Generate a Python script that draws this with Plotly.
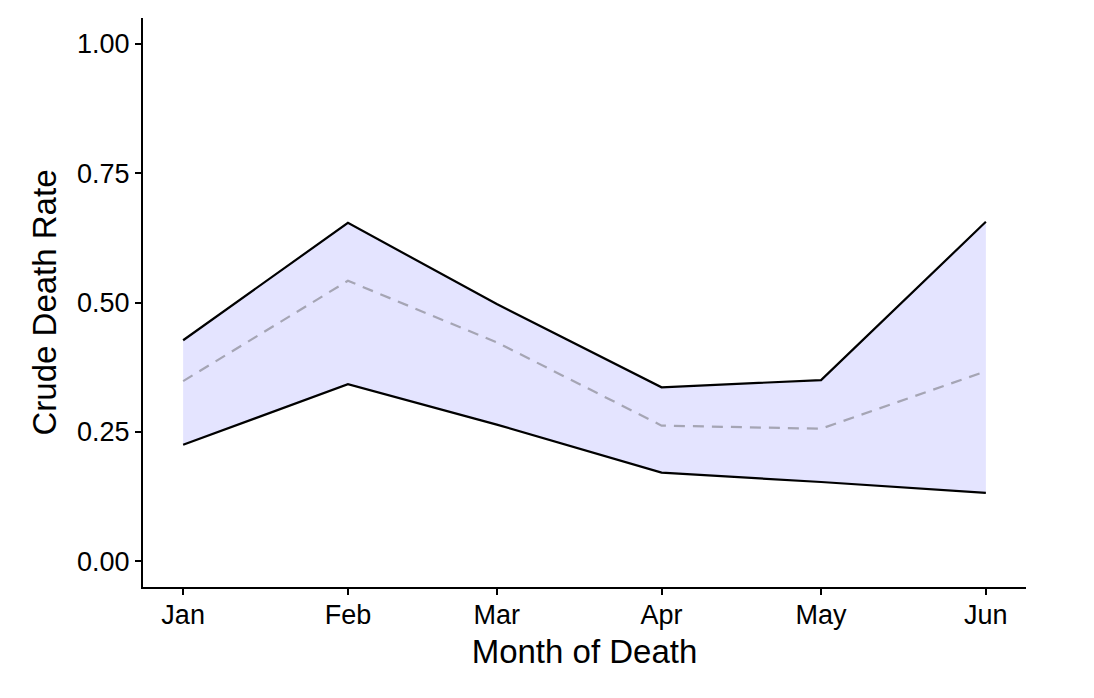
import plotly.graph_objects as go
import pandas as pd

months = ["2021-01-01", "2021-02-01", "2021-03-01", "2021-04-01", "2021-05-01", "2021-06-01"]
month_labels = ["Jan", "Feb", "Mar", "Apr", "May", "Jun"]
upper = [0.427, 0.654, 0.497, 0.336, 0.350, 0.656]
rate = [0.348, 0.542, 0.423, 0.262, 0.256, 0.367]
lower = [0.225, 0.342, 0.264, 0.171, 0.153, 0.132]
y_ticks = [0.0, 0.25, 0.5, 0.75, 1.0]
y_tick_labels = ["0.00", "0.25", "0.50", "0.75", "1.00"]

dates = pd.to_datetime(months)
span = dates[-1] - dates[0]
xr = [dates[0] - span * 0.05, dates[-1] + span * 0.05]

fig = go.Figure()
fig.add_trace(go.Scatter(x=dates, y=lower, mode="lines", line=dict(color="black", width=2.2), showlegend=False))
fig.add_trace(go.Scatter(x=dates, y=upper, mode="lines", line=dict(color="black", width=2.2),
                         fill="tonexty", fillcolor="rgb(228,228,255)", showlegend=False))
fig.add_trace(go.Scatter(x=dates, y=rate, mode="lines",
                         line=dict(color="rgb(165,165,180)", width=2.2, dash="11px,8px"),
                         showlegend=False))

font_family = "Liberation Sans, Arial, sans-serif"
fig.update_layout(
    width=1086, height=690,
    margin=dict(l=135, r=68, t=10, b=111),
    plot_bgcolor="white", paper_bgcolor="white",
    font=dict(family=font_family, color="black"),
    xaxis=dict(
        range=xr, tickvals=dates, ticktext=month_labels,
        showline=True, linecolor="black", linewidth=2, showgrid=False, zeroline=False,
        ticks="outside", ticklen=6, tickwidth=2, tickcolor="black",
        tickfont=dict(size=27, color="black"), ticklabelstandoff=-3,
        title=dict(text="Month of Death", font=dict(size=33, color="black"), standoff=10),
    ),
    yaxis=dict(
        range=[-0.05, 1.05], tickvals=y_ticks, ticktext=y_tick_labels,
        showline=True, linecolor="black", linewidth=2, showgrid=False, zeroline=False,
        ticks="outside", ticklen=6, tickwidth=2, tickcolor="black",
        tickfont=dict(size=27, color="black"),
        title=dict(text="Crude Death Rate", font=dict(size=33, color="black"), standoff=10),
    ),
)
fig.write_html("out.html")
